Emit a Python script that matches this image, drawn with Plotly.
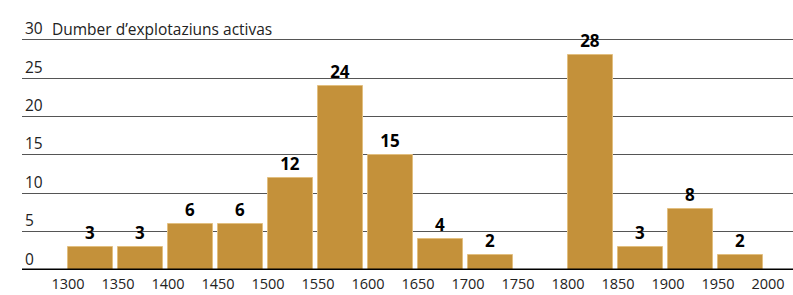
import plotly.graph_objects as go

bin_starts = [1300, 1350, 1400, 1450, 1500, 1550, 1600, 1650, 1700, 1800, 1850, 1900, 1950]
counts = [3, 3, 6, 6, 12, 24, 15, 4, 2, 28, 3, 8, 2]
x_ticks = list(range(1300, 2001, 50))
y_ticks = [0, 5, 10, 15, 20, 25, 30]
title_text = "Dumber d\u2019explotaziuns activas"

FONT = "Open Sans"
fig = go.Figure()
fig.add_trace(go.Bar(
    x=bin_starts, y=counts, width=45, offset=0,
    marker=dict(color="#C4913A", line=dict(color="#E2BF80", width=1)),
    text=[str(c) for c in counts], textposition="outside",
    textfont=dict(family=FONT, size=17, color="black", weight="bold"),
    cliponaxis=False,
))
fig.update_layout(
    width=793, height=295,
    margin=dict(l=22, r=0, t=9, b=25),
    plot_bgcolor="white", paper_bgcolor="white",
    showlegend=False,
    font=dict(family=FONT, size=14, color="#222"),
    xaxis=dict(range=[1254, 2025], tickvals=x_ticks, ticktext=[str(v) for v in x_ticks],
               showgrid=False, zeroline=False, showline=False, ticks="",
               ticklabelstandoff=3,
               tickfont=dict(size=14.5, color="#222")),
    yaxis=dict(range=[0, 34], tickvals=y_ticks, ticktext=[str(v) for v in y_ticks],
               ticklabelposition="inside top", showgrid=True, gridcolor="#555", gridwidth=1,
               zeroline=False, showline=False, ticks="",
               tickfont=dict(size=15.5, color="#222")),
    bargap=0,
)
fig.add_shape(type="line", xref="paper", yref="y", x0=0, x1=1, y0=0, y1=0,
              line=dict(color="black", width=3))
fig.add_annotation(text=title_text, xref="paper", yref="y", x=(50 - 22) / 771, y=30,
                   xanchor="left", yanchor="bottom", showarrow=False, yshift=-2,
                   font=dict(family=FONT, size=15.5, color="#222"))
fig.write_html("out.html", config={"displayModeBar": False},
               post_script="document.body.style.margin='0px';")
